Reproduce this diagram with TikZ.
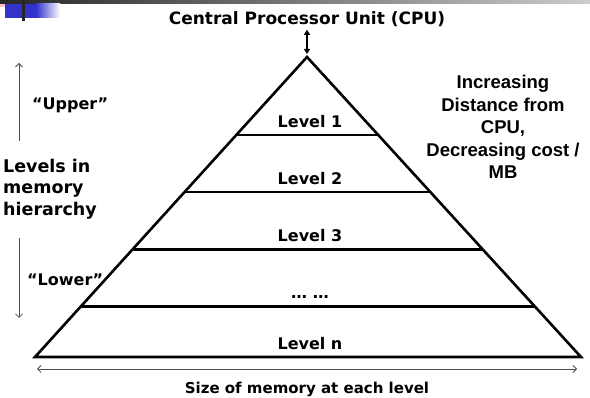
\documentclass[tikz,border=0pt]{standalone}
\usepackage{fontspec}
\setmainfont{DejaVu Sans}
\newfontfamily\arialfont{Liberation Sans}
\usepackage{tikz}
\usetikzlibrary{positioning,arrows.meta,calc}
\definecolor{slideblue}{RGB}{51,51,204}
\definecolor{slidepink}{RGB}{255,196,196}
\tikzstyle{lbl} = [font=\bfseries\fontsize{16}{19}\selectfont, inner sep=0pt]
\tikzstyle{arrow} = [draw=black!70, line width=0.8pt, -{Straight Barb[length=3.5pt,width=7pt]}]

\begin{document}
\begin{tikzpicture}[
			x=1pt, y=-1pt,
			edge/.style={line width=2.6pt, line join=miter},
			level/.style={lbl, anchor=base},
			note/.style={
					font=\arialfont\bfseries\fontsize{18.5}{22.5}\selectfont,
					align=center,
					inner sep=0pt,
				}
		]
		\useasboundingbox (0,0) rectangle (590,398);

		% slide decoration
		\fill[slidepink] (0,0) rectangle (17,7);
		\shade[left color=black!85, right color=black!20] (0,1) rectangle (590,3.5);
		\fill[slideblue] (5,4) rectangle (36,18);
		\shade[left color=slideblue, right color=white] (36,4) rectangle (60,18);
		\fill[black!85] (22,0) rectangle (25,21);

		% pyramid
		\coordinate (apex) at (307,57);
		\coordinate (bl) at (35,357);
		\coordinate (br) at (581,357);
		\draw[edge] (bl) -- (apex) -- (br) -- cycle;
		\foreach \t/\n in {0.26/1, 0.45/2, 0.641/3, 0.832/4} {
				\draw[edge] ($(apex)!\t!(bl)$) coordinate (ll\n) -- ($(apex)!\t!(br)$) coordinate (lr\n);
			}

		% levels
		\node[level] (lev1) at (310,127.5) {Level 1};
		\node[level] (lev2) at (310,184.5) {Level 2};
		\node[level] (lev3) at (310,241.5) {Level 3};
		\node[level] (levd) at (310,299) {… …};
		\node[level] (levn) at (310,349.5) {Level n};

		% CPU
		\node[lbl, font=\bfseries\fontsize{17}{19}\selectfont] (cpu) at (307,19) {Central Processor Unit (CPU)};
		\draw[line width=1.8pt, {Triangle[length=5pt,width=6pt]}-{Triangle[length=5pt,width=6pt]}]
		([yshift=-3pt]cpu.south) -- ([yshift=3pt]apex);

		% distance / cost
		\node[note] (dist) at (503,127) {Increasing\\Distance from\\CPU,\\Decreasing cost /\\MB};

		% levels in hierarchy
		\coordinate (upbot) at (19,141);
		\coordinate (uptop) at (19,63);
		\coordinate (dntop) at (19,238);
		\coordinate (dnbot) at (19,318);
		\draw[arrow] (upbot) -- (uptop);
		\draw[arrow] (dntop) -- (dnbot);
		\node[lbl, anchor=west] (upper) at (32,105) {“Upper”};
		\node[lbl, anchor=west, align=left, font=\bfseries\fontsize{17.5}{21.5}\selectfont] (levels) at (3,189) {Levels in\\memory\\hierarchy};
		\node[lbl, anchor=west] (lower) at (27,280) {“Lower”};

		% size
		\coordinate (sl) at (37,369);
		\coordinate (sr) at (577,369);
		\draw[arrow, {Straight Barb[length=3.5pt,width=7pt]}-{Straight Barb[length=3.5pt,width=7pt]}] (sl) -- (sr);
		\node[lbl, font=\bfseries\fontsize{15}{18}\selectfont] (size) at (307,389) {Size of memory at each level};
	\end{tikzpicture}
\end{document}
